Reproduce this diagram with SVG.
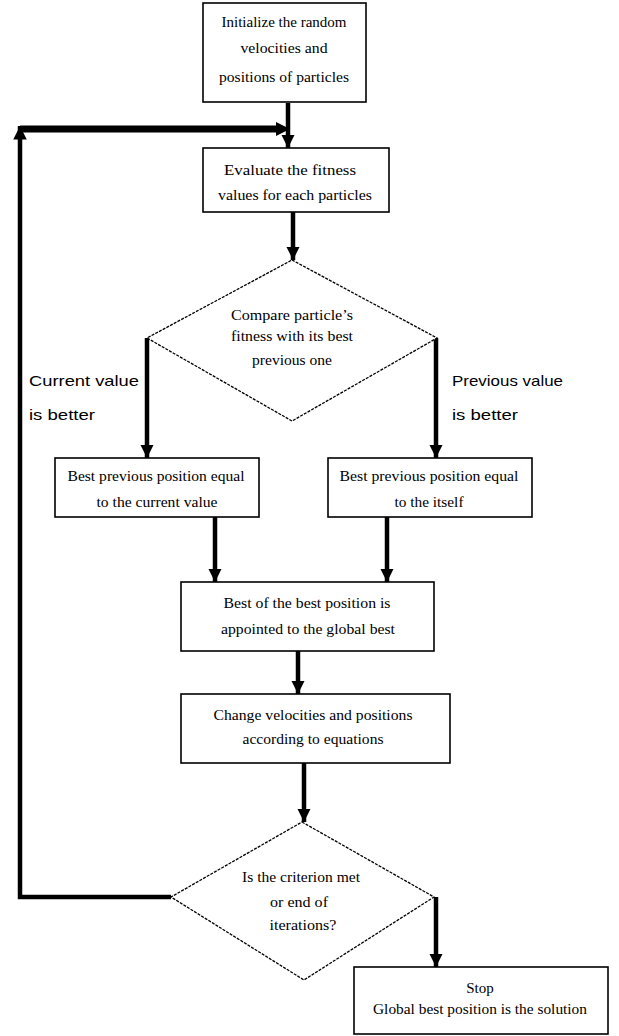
<svg xmlns="http://www.w3.org/2000/svg" width="619" height="1036" viewBox="0 0 619 1036">
<style>
.box{fill:#fff;stroke:#000;stroke-width:1.6}
.dia{fill:#fff;stroke:#000;stroke-width:1.3;stroke-dasharray:3 1.2}
.t{font-family:"Liberation Serif","Times New Roman",serif;font-size:15px;fill:#000;text-anchor:middle}
.l{font-family:"Liberation Sans",Arial,sans-serif;font-size:15px;fill:#000}
.c{fill:none;stroke:#000;stroke-width:4.5}
</style>
<defs>
<marker id="ah" viewBox="0 0 10 10" refX="10" refY="5" markerWidth="3" markerHeight="3" orient="auto" markerUnits="strokeWidth">
<path d="M0,0 L10,5 L0,10 z" fill="#000"/>
</marker>
</defs>
<rect width="619" height="1036" fill="#fff"/>
<g id="connectors">
<line class="c" x1="288" y1="103" x2="288" y2="148" marker-end="url(#ah)"/>
<line class="c" style="stroke-width:7" x1="20" y1="129" x2="280" y2="129"/>
<path d="M276,122 L290,129 L276,136 z" fill="#000"/>
<line class="c" x1="293" y1="212" x2="293" y2="260" marker-end="url(#ah)"/>
<line class="c" x1="147" y1="338" x2="147" y2="458" marker-end="url(#ah)"/>
<line class="c" x1="436" y1="338" x2="436" y2="458" marker-end="url(#ah)"/>
<line class="c" x1="215" y1="517" x2="215" y2="582" marker-end="url(#ah)"/>
<line class="c" x1="387" y1="517" x2="387" y2="582" marker-end="url(#ah)"/>
<line class="c" x1="298" y1="651" x2="298" y2="694" marker-end="url(#ah)"/>
<line class="c" x1="304" y1="763" x2="304" y2="822" marker-end="url(#ah)"/>
<polyline class="c" points="436,897 436,967" marker-end="url(#ah)"/>
<polyline class="c" points="171,897 20,897 20,126" marker-end="url(#ah)"/>
</g>
<g id="n1">
<rect class="box" x="203" y="3" width="163" height="99"/>
<text class="t" x="284" y="27" textLength="125" lengthAdjust="spacingAndGlyphs">Initialize the random</text>
<text class="t" x="284" y="53" textLength="87" lengthAdjust="spacingAndGlyphs">velocities and</text>
<text class="t" x="284" y="82" textLength="130" lengthAdjust="spacingAndGlyphs">positions of particles</text>
</g>
<g id="n2">
<rect class="box" x="203" y="148" width="186" height="64"/>
<text class="t" x="290" y="175" textLength="132" lengthAdjust="spacingAndGlyphs">Evaluate the fitness</text>
<text class="t" x="295" y="200" textLength="154" lengthAdjust="spacingAndGlyphs">values for each particles</text>
</g>
<g id="n3">
<polygon class="dia" points="292,260 437,338 292,421 147,338"/>
<text class="t" x="292" y="320" textLength="122" lengthAdjust="spacingAndGlyphs">Compare particle’s</text>
<text class="t" x="292" y="341" textLength="122" lengthAdjust="spacingAndGlyphs">fitness with its best</text>
<text class="t" x="292" y="365" textLength="80" lengthAdjust="spacingAndGlyphs">previous one</text>
</g>
<g id="labels">
<text class="l" x="29" y="386" textLength="110" lengthAdjust="spacingAndGlyphs">Current  value</text>
<text class="l" x="29" y="420" textLength="66" lengthAdjust="spacingAndGlyphs">is better</text>
<text class="l" x="452" y="386" textLength="111" lengthAdjust="spacingAndGlyphs">Previous value</text>
<text class="l" x="452" y="420" textLength="66" lengthAdjust="spacingAndGlyphs">is better</text>
</g>
<g id="n4">
<rect class="box" x="55" y="458" width="204" height="59"/>
<text class="t" x="156" y="481" textLength="177" lengthAdjust="spacingAndGlyphs">Best previous position equal</text>
<text class="t" x="157" y="507" textLength="121" lengthAdjust="spacingAndGlyphs">to the current value</text>
</g>
<g id="n5">
<rect class="box" x="328" y="458" width="204" height="59"/>
<text class="t" x="429" y="481" textLength="179" lengthAdjust="spacingAndGlyphs">Best previous position equal</text>
<text class="t" x="429" y="507" textLength="69" lengthAdjust="spacingAndGlyphs">to the itself</text>
</g>
<g id="n6">
<rect class="box" x="181" y="582" width="253" height="69"/>
<text class="t" x="307" y="608" textLength="167" lengthAdjust="spacingAndGlyphs">Best of the best position is</text>
<text class="t" x="308" y="634" textLength="174" lengthAdjust="spacingAndGlyphs">appointed to the global best</text>
</g>
<g id="n7">
<rect class="box" x="181" y="694" width="269" height="69"/>
<text class="t" x="313" y="720" textLength="199" lengthAdjust="spacingAndGlyphs">Change velocities and positions</text>
<text class="t" x="313" y="744" textLength="141" lengthAdjust="spacingAndGlyphs">according to equations</text>
</g>
<g id="n8">
<polygon class="dia" points="302,822 434,897 304,980 171,897"/>
<text class="t" x="301" y="882" textLength="118" lengthAdjust="spacingAndGlyphs">Is the criterion met</text>
<text class="t" x="299" y="907" textLength="58" lengthAdjust="spacingAndGlyphs">or end of</text>
<text class="t" x="303" y="930" textLength="67" lengthAdjust="spacingAndGlyphs">iterations?</text>
</g>
<g id="n9">
<rect class="box" x="354" y="967" width="254" height="67"/>
<text class="t" x="480" y="993">Stop</text>
<text class="t" x="480" y="1014" textLength="214" lengthAdjust="spacingAndGlyphs">Global best position is the solution</text>
</g>
</svg>
